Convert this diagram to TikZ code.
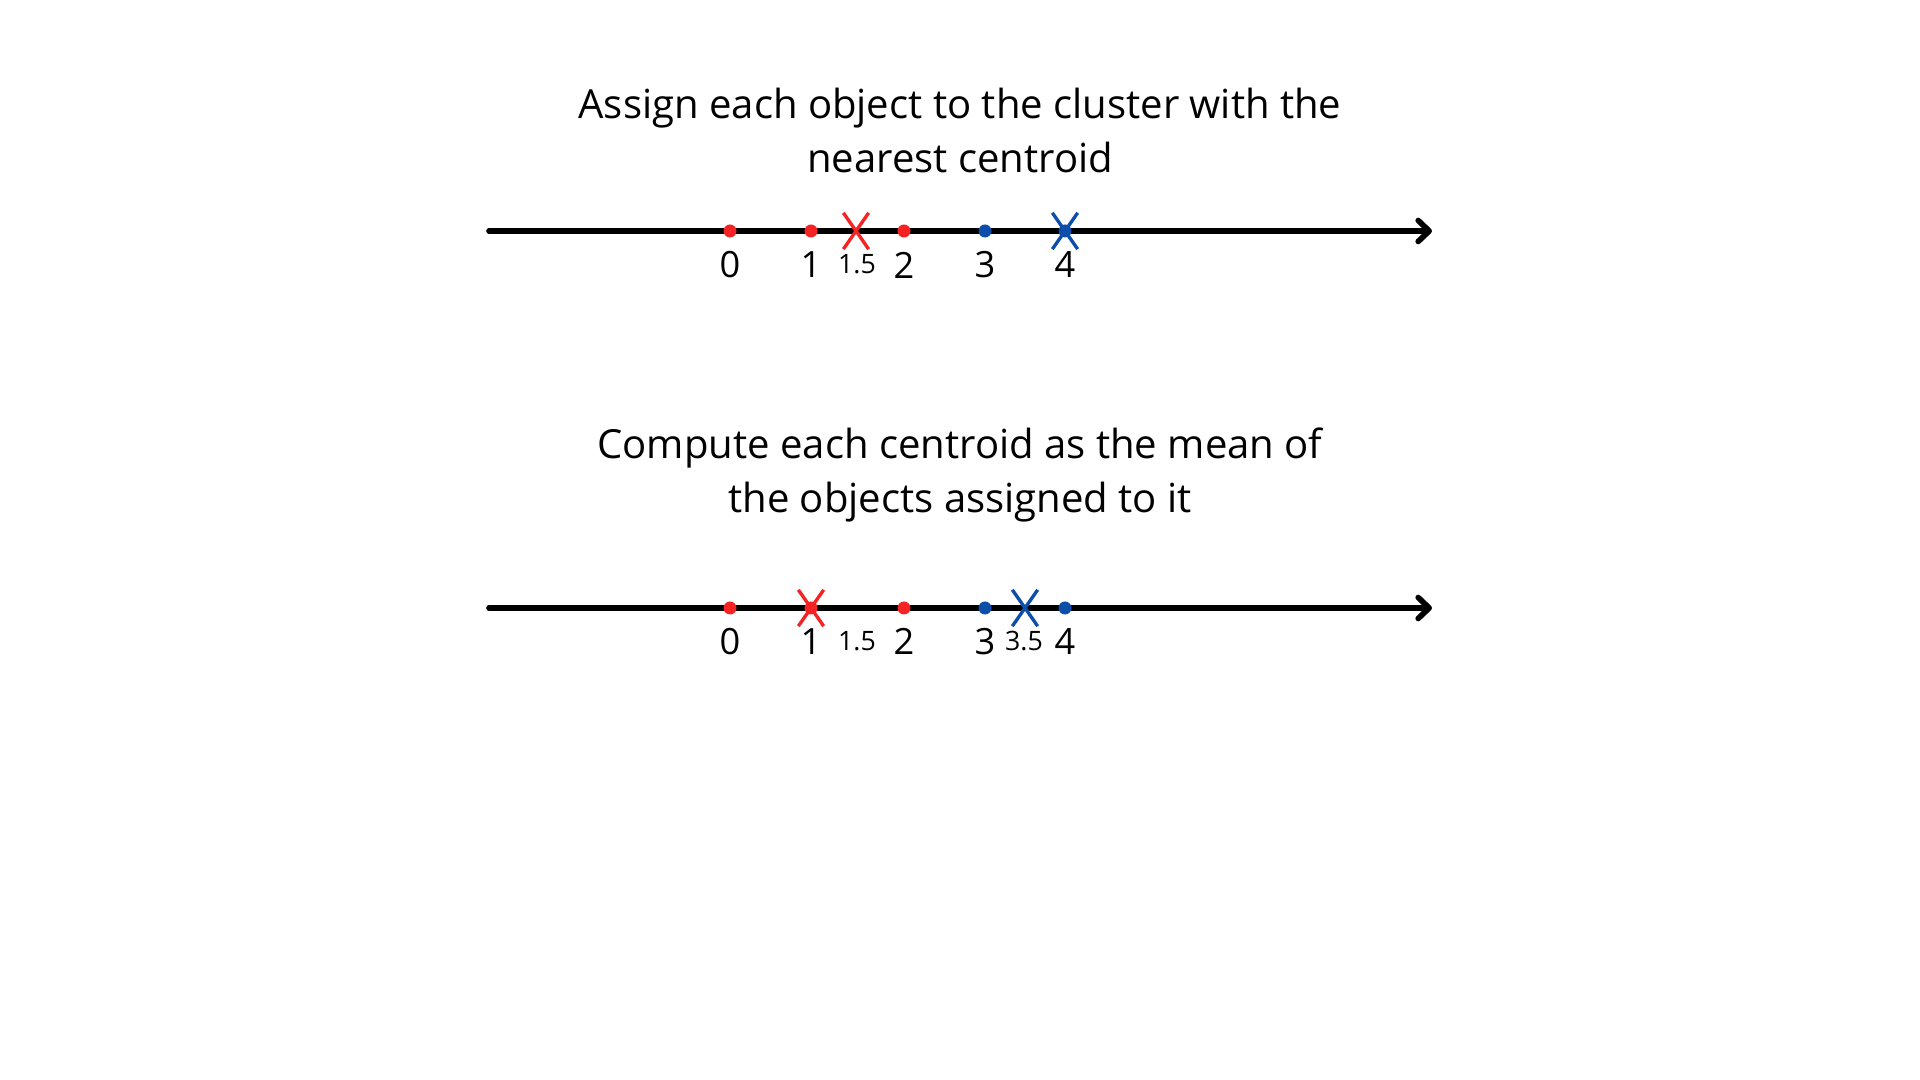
\documentclass[tikz,border=0pt]{standalone}
\usepackage{fontspec}
\setmainfont{Open Sans}
\usetikzlibrary{arrows.meta, shapes.misc}

\definecolor{ptred}{RGB}{245,35,35}
\definecolor{ptblue}{RGB}{12,78,170}

\begin{document}
\begin{tikzpicture}[
        axis/.style={line width=1.6pt, line cap=round, -{Straight Barb[length=1.1mm, width=2.1mm, round]}},
        pt/.style={circle, fill=#1, inner sep=0pt, minimum size=0.13cm},
        ctr/.style={cross out, draw=#1, line width=0.95pt, inner sep=0pt, minimum width=0.22cm, minimum height=0.33cm},
        num/.style={inner sep=0pt, font=\fontsize{10.3}{12}\selectfont},
        mid/.style={inner sep=0pt, font=\fontsize{7.6}{9}\selectfont},
        title/.style={align=center, anchor=base, inner sep=0pt, font=\fontsize{11.4}{15.6}\selectfont}
    ]
        \useasboundingbox (0,0) rectangle (19.2,10.8);

        % top: assignment step
        \node[title] (t1) at (9.60,9.07) {Assign each object to the cluster with the\\nearest centroid};
        \coordinate (s1) at (4.89,8.49);
        \coordinate (e1) at (14.32,8.49);
        \draw[axis] (s1) -- (e1);

        \node[ctr=ptred] (c1a) at (8.56,8.49) {};
        \node[ctr=ptblue] (c1b) at (10.65,8.49) {};

        \node[pt=ptred] (a0) at (7.30,8.49) {};
        \node[pt=ptred] (a1) at (8.11,8.49) {};
        \node[pt=ptred] (a2) at (9.04,8.49) {};
        \node[pt=ptblue] (a3) at (9.85,8.49) {};
        \node[pt=ptblue] (a4) at (10.65,8.49) {};

        \node[num] (la0) at (7.30,8.15) {0};
        \node[num] (la1) at (8.11,8.15) {1};
        \node[mid] (la15) at (8.57,8.155) {1.5};
        \node[num] (la2) at (9.04,8.15) {2};
        \node[num] (la3) at (9.85,8.15) {3};
        \node[num] (la4) at (10.65,8.15) {4};

        % bottom: update step
        \node[title] (t2) at (9.60,5.67) {Compute each centroid as the mean of\\the objects assigned to it};
        \coordinate (s2) at (4.89,4.72);
        \coordinate (e2) at (14.32,4.72);
        \draw[axis] (s2) -- (e2);

        \node[ctr=ptred] (c2a) at (8.11,4.72) {};
        \node[ctr=ptblue] (c2b) at (10.25,4.72) {};

        \node[pt=ptred] (b0) at (7.30,4.72) {};
        \node[pt=ptred] (b1) at (8.11,4.72) {};
        \node[pt=ptred] (b2) at (9.04,4.72) {};
        \node[pt=ptblue] (b3) at (9.85,4.72) {};
        \node[pt=ptblue] (b4) at (10.65,4.72) {};

        \node[num] (lb0) at (7.30,4.385) {0};
        \node[num] (lb1) at (8.11,4.385) {1};
        \node[mid] (lb15) at (8.57,4.385) {1.5};
        \node[num] (lb2) at (9.04,4.385) {2};
        \node[num] (lb3) at (9.85,4.385) {3};
        \node[mid] (lb35) at (10.24,4.385) {3.5};
        \node[num] (lb4) at (10.65,4.385) {4};
    \end{tikzpicture}
\end{document}
